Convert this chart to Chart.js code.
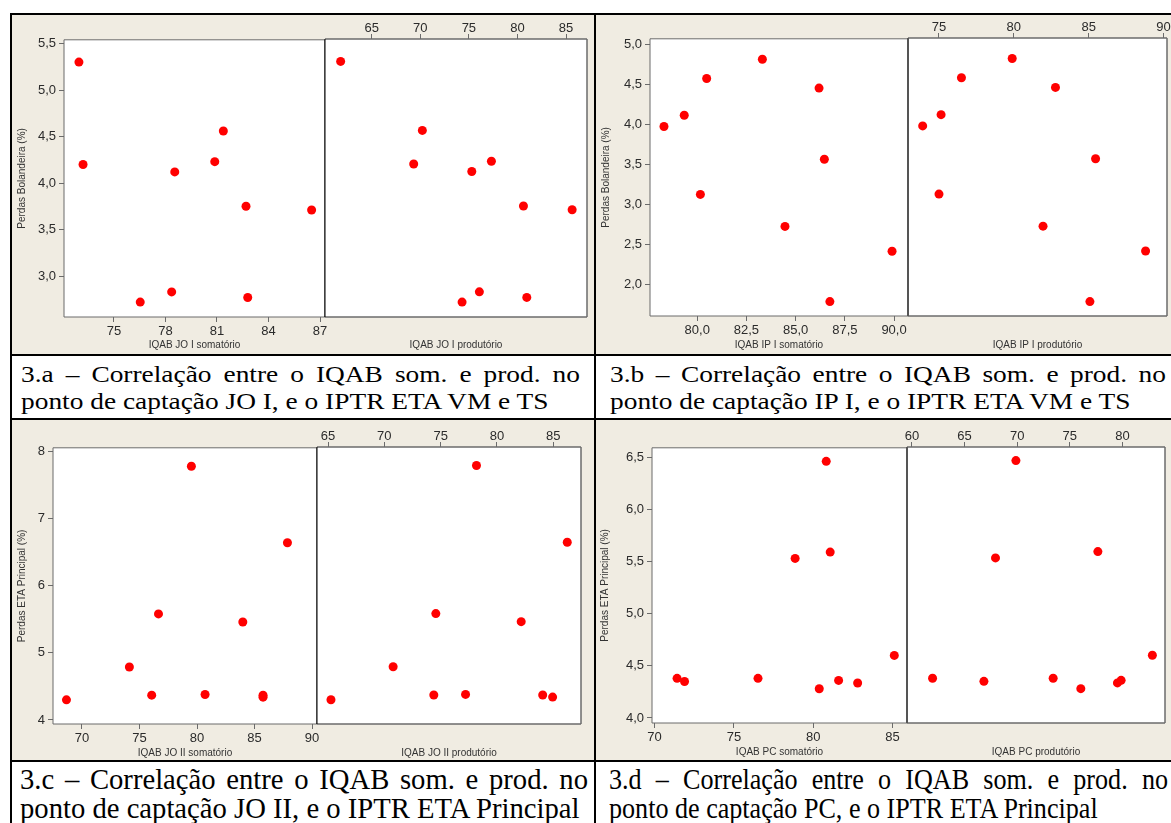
<!DOCTYPE html>
<html><head><meta charset="utf-8">
<script src="https://cdn.jsdelivr.net/npm/chart.js@4"></script>
<style>
body{margin:0;width:1171px;height:823px;overflow:hidden;background:#fff;position:relative;}
.bg{position:absolute;background:#F0ECE2;}
.ln{position:absolute;background:#000;}
canvas{position:absolute;}
.cap{position:absolute;font-family:"Liberation Serif","Times New Roman",serif;color:#000;white-space:nowrap;transform-origin:0 50%;}
</style></head><body>
<div class="bg" style="left:12px;top:15px;width:582px;height:339px"></div>
<div class="bg" style="left:596px;top:15px;width:575px;height:339px"></div>
<div class="bg" style="left:12px;top:420px;width:582px;height:340px"></div>
<div class="bg" style="left:596px;top:420px;width:575px;height:340px"></div>
<div class="ln" style="left:10px;top:13px;width:1161px;height:2px"></div>
<div class="ln" style="left:10px;top:13px;width:2px;height:810px"></div>
<div class="ln" style="left:594px;top:13px;width:2px;height:810px"></div>
<div class="ln" style="left:10px;top:354px;width:1161px;height:2px"></div>
<div class="ln" style="left:10px;top:418px;width:1161px;height:2px"></div>
<div class="ln" style="left:10px;top:760px;width:1161px;height:2px"></div>
<script>
// ---- data ----
const aY    = [5.30, 4.20, 4.56, 4.23, 4.12, 3.75, 3.71, 2.72, 2.83, 2.77];
const aSom  = [72.96, 73.20, 81.37, 80.87, 78.54, 82.69, 86.51, 76.53, 78.36, 82.79];
const aProd = [61.80, 69.32, 70.21, 77.32, 75.30, 80.62, 85.63, 74.30, 76.08, 80.96];

const bY    = [3.97, 4.11, 4.57, 3.12, 4.81, 4.45, 3.56, 2.72, 2.41, 1.78];
const bSom  = [78.31, 79.34, 80.48, 80.16, 83.31, 86.19, 86.46, 84.46, 89.90, 86.74];
const bProd = [73.91, 75.14, 76.50, 75.00, 79.89, 82.78, 85.46, 81.95, 88.80, 85.08];

const cY    = [4.30, 4.79, 4.37, 5.58, 7.78, 4.38, 5.46, 4.37, 4.34, 6.64];
const cSom  = [68.65, 74.12, 76.06, 76.65, 79.51, 80.70, 83.98, 85.74, 85.74, 87.86];
const cProd = [65.26, 70.78, 74.39, 74.57, 78.18, 77.21, 82.15, 84.06, 84.94, 86.24];

const dY    = [4.38, 4.35, 4.38, 5.53, 6.46, 5.59, 4.28, 4.36, 4.335, 4.60];
const dSom  = [71.42, 71.89, 76.52, 78.86, 80.82, 81.07, 80.38, 81.60, 82.80, 85.11];
const dProd = [61.96, 66.84, 73.42, 67.94, 69.88, 77.67, 76.05, 79.88, 79.53, 82.85];

// ---- tick labels ----
const aYTicks = [3.0, 3.5, 4.0, 4.5, 5.0, 5.5];
const aSomTicks = [75, 78, 81, 84, 87];
const aProdTicks = [65, 70, 75, 80, 85];
const bYTicks = [2.0, 2.5, 3.0, 3.5, 4.0, 4.5, 5.0];
const bSomTicks = [80, 82.5, 85, 87.5, 90];
const bProdTicks = [75, 80, 85, 90];
const cYTicks = [4, 5, 6, 7, 8];
const cSomTicks = [70, 75, 80, 85, 90];
const cProdTicks = [65, 70, 75, 80, 85];
const dYTicks = [4.0, 4.5, 5.0, 5.5, 6.0, 6.5];
const dSomTicks = [70, 75, 80, 85];
const dProdTicks = [60, 65, 70, 75, 80];

const captions = [
  ["3.a – Correlação entre o IQAB som. e prod. no", "ponto de captação JO I, e o IPTR ETA VM e TS"],
  ["3.b – Correlação entre o IQAB som. e prod. no", "ponto de captação IP I, e o IPTR ETA VM e TS"],
  ["3.c – Correlação entre o IQAB som. e prod. no", "ponto de captação JO II, e o IPTR ETA Principal"],
  ["3.d – Correlação entre o IQAB som. e prod. no", "ponto de captação PC, e o IPTR ETA Principal"]
];

// ---- helpers ----
const FONT = '"Liberation Sans", Arial, sans-serif';
const GRAY = '#6b6b6b';
function fmt(d){ return function(v){ return Number(v).toFixed(d).replace('.', ','); }; }
function pts(xs, ys){ return xs.map((x,i)=>({x:x, y:ys[i]})); }
function setTicks(arr){ return function(s){ s.ticks = arr.map(v=>({value:v})); }; }
function frame(edges){
  return {
    id:'frame',
    beforeDraw(c){ const a=c.chartArea, ctx=c.ctx; ctx.save(); ctx.fillStyle='#ffffff'; ctx.fillRect(a.left,a.top,a.right-a.left,a.bottom-a.top); ctx.restore(); },
    beforeDatasetsDraw(c){
      const a=c.chartArea, ctx=c.ctx; ctx.save();
      function line(x1,y1,x2,y2,st){ ctx.strokeStyle=st[0]; ctx.lineWidth=st[1]; ctx.beginPath(); ctx.moveTo(x1,y1); ctx.lineTo(x2,y2); ctx.stroke(); }
      line(a.left,a.top,a.right,a.top,edges.top);
      line(a.left,a.bottom,a.right,a.bottom,edges.bottom);
      line(a.left,a.top,a.left,a.bottom,edges.left);
      line(a.right,a.top,a.right,a.bottom,edges.right);
      ctx.restore();
    }
  };
}
function subplot(o){
  const [L,T,R,B] = o.plot;
  const isLeft = o.side === 'left';
  const padL = isLeft ? 0 : 15, padR = 15, padT = isLeft ? 10 : 0;
  const leftBox = isLeft ? o.yW : 0, topBox = isLeft ? 0 : o.topH;
  const cl = L - leftBox - padL, ct = T - topBox - padT;
  const w = R + padR - cl, h = B + o.xH - ct;
  const cv = document.createElement('canvas');
  cv.width = w; cv.height = h;
  cv.style.left = cl + 'px'; cv.style.top = ct + 'px';
  cv.style.width = w + 'px'; cv.style.height = h + 'px';
  document.body.appendChild(cv);
  const tickFont = {family: FONT, size: 13};
  const titleFont = {family: FONT, size: 10, lineHeight: 1.2};
  const grid = {display:true, drawOnChartArea:false, drawTicks:true, tickLength:5, color:GRAY, lineWidth:1};
  const scales = {};
  if (isLeft) {
    scales.x = {type:'linear', position:'bottom', min:o.xr[0], max:o.xr[1], afterBuildTicks:setTicks(o.xt),
      afterFit:s=>{s.height=o.xH;}, ticks:{callback:fmt(o.xd), font:tickFont, color:'#2b2b2b', padding:2, maxRotation:0, autoSkip:false},
      grid:grid, border:{display:false}, title:{display:true, text:o.xTitle, font:titleFont, color:'#333', padding:0}};
    scales.y = {type:'linear', position:'left', min:o.yr[0], max:o.yr[1], afterBuildTicks:setTicks(o.yt),
      afterFit:s=>{s.width=o.yW;}, ticks:{callback:fmt(o.yd), font:tickFont, color:'#2b2b2b', padding:3, autoSkip:false},
      grid:grid, border:{display:false}, title:{display:true, text:o.yTitle, font:titleFont, color:'#333', padding:0}};
  } else {
    scales.x = {type:'linear', position:'top', min:o.xr[0], max:o.xr[1], afterBuildTicks:setTicks(o.xt),
      afterFit:s=>{s.height=o.topH;}, ticks:{callback:fmt(o.xd), font:tickFont, color:'#2b2b2b', padding:-2, maxRotation:0, autoSkip:false},
      grid:grid, border:{display:false}};
    scales.xb = {type:'linear', axis:'x', position:'bottom', afterFit:s=>{s.height=o.xH;},
      ticks:{display:false}, grid:{display:false}, border:{display:false},
      title:{display:true, text:o.xTitle, font:titleFont, color:'#333', padding:0}};
    scales.y = {type:'linear', display:false, min:o.yr[0], max:o.yr[1]};
  }
  new Chart(cv, {
    type:'scatter',
    data:{datasets:[{data:pts(o.xs,o.ys), xAxisID:'x', yAxisID:'y', backgroundColor:'#ff0000', borderColor:'#ff0000', borderWidth:0, pointRadius:4.5, pointHoverRadius:4.5, clip:false}]},
    options:{responsive:false, animation:false, devicePixelRatio:1, events:[],
      layout:{padding:{left:padL, right:padR, top:padT, bottom:0}},
      plugins:{legend:{display:false}, tooltip:{enabled:false}},
      scales:scales},
    plugins:[frame(o.edges)]
  });
}
const G1 = [GRAY,1], G15 = [GRAY,1.5], BLK = ['#000',1], DG = ['#555',2];

// Panel 3.a
subplot({side:'left', plot:[64,39,325,317], yW:48, xH:34, xr:[72.09,87.29], yr:[2.56,5.54], xt:aSomTicks, yt:aYTicks, xd:0, yd:1,
  xs:aSom, ys:aY, xTitle:'IQAB JO I somatório', yTitle:'Perdas Bolandeira (%)', edges:{top:G1,bottom:G1,left:G1,right:BLK}});
subplot({side:'right', plot:[325,39,587,317], topH:25, xH:34, xr:[60.19,87.16], yr:[2.56,5.54], xt:aProdTicks, xd:0,
  xs:aProd, ys:aY, xTitle:'IQAB JO I produtório', edges:{top:G15,bottom:G15,left:BLK,right:G15}});
// Panel 3.b
subplot({side:'left', plot:[650,38,908,316], yW:50, xH:35, xr:[77.6,90.71], yr:[1.6,5.066], xt:bSomTicks, yt:bYTicks, xd:1, yd:1,
  xs:bSom, ys:bY, xTitle:'IQAB IP I somatório', yTitle:'Perdas Bolandeira (%)', edges:{top:G1,bottom:G1,left:G1,right:DG}});
subplot({side:'right', plot:[908,38,1167,316], topH:25, xH:35, xr:[72.93,90.23], yr:[1.6,5.066], xt:bProdTicks, xd:0,
  xs:bProd, ys:bY, xTitle:'IQAB IP I produtório', edges:{top:G15,bottom:G15,left:DG,right:G15}});
// Panel 3.c
subplot({side:'left', plot:[53,447,317,724], yW:37, xH:35, xr:[67.48,90.43], yr:[3.94,8.055], xt:cSomTicks, yt:cYTicks, xd:0, yd:0,
  xs:cSom, ys:cY, xTitle:'IQAB JO II somatório', yTitle:'Perdas ETA Principal (%)', edges:{top:G1,bottom:G1,left:G1,right:BLK}});
subplot({side:'right', plot:[317,447,581,724], topH:25, xH:35, xr:[64.02,87.46], yr:[3.94,8.055], xt:cProdTicks, xd:0,
  xs:cProd, ys:cY, xTitle:'IQAB JO II produtório', edges:{top:G15,bottom:G15,left:BLK,right:G15}});
// Panel 3.d
subplot({side:'left', plot:[652,447,907,723], yW:53, xH:35, xr:[69.84,85.91], yr:[3.952,6.59], xt:dSomTicks, yt:dYTicks, xd:0, yd:1,
  xs:dSom, ys:dY, xTitle:'IQAB PC somatório', yTitle:'Perdas ETA Principal (%)', edges:{top:G1,bottom:G1,left:G1,right:DG}});
subplot({side:'right', plot:[907,447,1165,723], topH:25, xH:35, xr:[59.53,84.05], yr:[3.952,6.59], xt:dProdTicks, xd:0,
  xs:dProd, ys:dY, xTitle:'IQAB PC produtório', edges:{top:G15,bottom:G15,left:DG,right:G15}});

// ---- captions ----
const capLayout = [
  {x:21, w:559, t1:361, t2:388, fs:23.5, lh:27, sx:1.165},
  {x:610, w:556, t1:361, t2:388, fs:23.5, lh:27, sx:1.165},
  {x:20, w:568, t1:764, t2:793, fs:30, lh:29, sx:0.955},
  {x:609, w:559, t1:764, t2:793, fs:30, lh:29, sx:0.87}
];
captions.forEach((lines, i) => {
  const c = capLayout[i];
  lines.forEach((txt, j) => {
    const d = document.createElement('div');
    d.className = 'cap';
    d.textContent = txt;
    d.style.left = c.x + 'px';
    d.style.top = (j === 0 ? c.t1 : c.t2) + 'px';
    d.style.fontSize = c.fs + 'px';
    d.style.lineHeight = c.lh + 'px';
    d.style.height = c.lh + 'px';
    d.style.width = (c.w / c.sx) + 'px';
    d.style.transform = 'scaleX(' + c.sx + ')';
    if (j === 0) { d.style.textAlign = 'justify'; d.style.textAlignLast = 'justify'; d.style.whiteSpace = 'normal'; }
    document.body.appendChild(d);
  });
});
</script>
</body></html>
